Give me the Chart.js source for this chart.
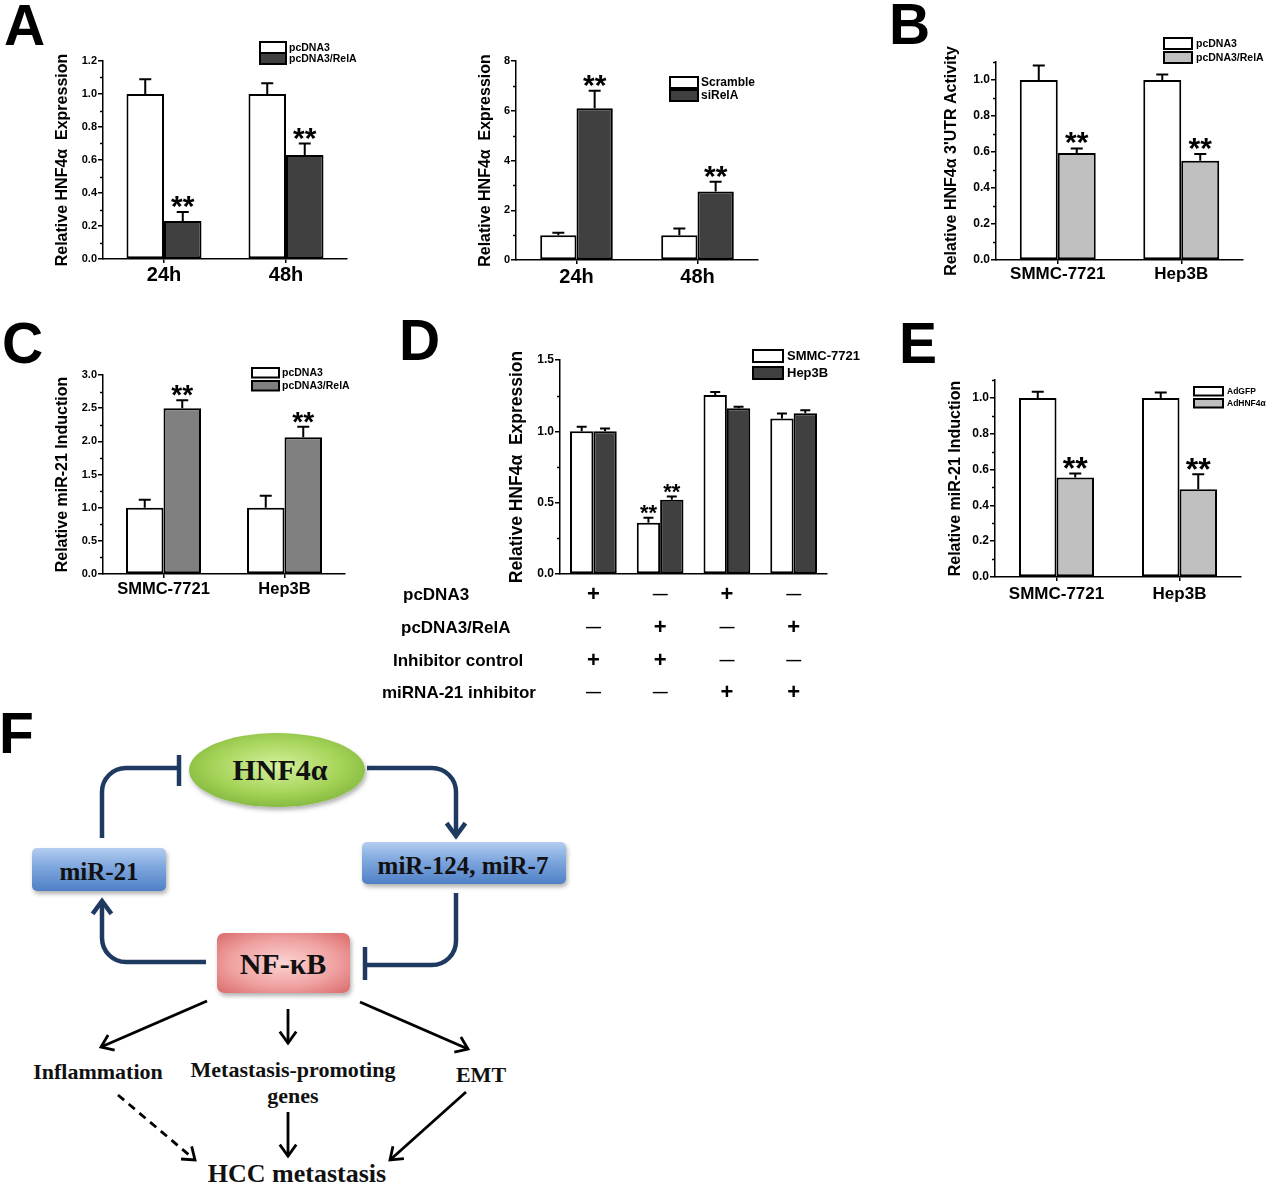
<!DOCTYPE html>
<html>
<head>
<meta charset="utf-8">
<script src="https://cdn.jsdelivr.net/npm/chart.js@4.4.0/dist/chart.umd.min.js"></script>
<style>
  body { margin: 0; background: #fff; }
  #fig { position: relative; width: 1270px; height: 1184px; overflow: hidden; background: #fff; }
  #fig canvas { position: absolute; }
  #fig svg { position: absolute; left: 0; top: 0; }
</style>
</head>
<body>
<div id="fig">
  <svg id="diagram" width="1270" height="1184" xmlns="http://www.w3.org/2000/svg">
    <defs>
      <radialGradient id="gGreen" cx="50%" cy="45%" r="60%">
        <stop offset="0%" stop-color="#d6f09c"/>
        <stop offset="60%" stop-color="#a6d45a"/>
        <stop offset="100%" stop-color="#7fb53a"/>
      </radialGradient>
      <linearGradient id="gBlue" x1="0" y1="0" x2="0" y2="1">
        <stop offset="0%" stop-color="#b3cdef"/>
        <stop offset="45%" stop-color="#7ea6de"/>
        <stop offset="100%" stop-color="#4f80c6"/>
      </linearGradient>
      <radialGradient id="gRed" cx="50%" cy="50%" r="65%">
        <stop offset="0%" stop-color="#fbd3d3"/>
        <stop offset="60%" stop-color="#f0a2a2"/>
        <stop offset="100%" stop-color="#de7474"/>
      </radialGradient>
      <filter id="shadow" x="-20%" y="-20%" width="140%" height="150%">
        <feDropShadow dx="1.5" dy="3" stdDeviation="2" flood-color="#000" flood-opacity="0.3"/>
      </filter>
    </defs>
    <g font-family="'Liberation Sans', Arial, sans-serif" font-weight="bold" font-size="57" fill="#000">
      <text x="4" y="45">A</text>
      <text x="889" y="44">B</text>
      <text x="2" y="363">C</text>
      <text x="399" y="360">D</text>
      <text x="899" y="363">E</text>
      <text x="-1" y="753">F</text>
    </g>
    <g id="arrows"></g>
    <ellipse cx="277" cy="770" rx="88" ry="37" fill="url(#gGreen)" filter="url(#shadow)"/>
    <rect x="32" y="848" width="134" height="43" rx="5" fill="url(#gBlue)" filter="url(#shadow)"/>
    <rect x="362" y="842" width="204" height="42" rx="5" fill="url(#gBlue)" filter="url(#shadow)"/>
    <rect x="217" y="933" width="133" height="60" rx="7" fill="url(#gRed)" filter="url(#shadow)"/>
    <g font-family="'Liberation Serif', 'DejaVu Serif', serif" font-weight="bold" fill="#111" text-anchor="middle">
      <text x="280" y="780" font-size="30">HNF4α</text>
      <text x="99" y="880" font-size="25">miR-21</text>
      <text x="463" y="874" font-size="25">miR-124, miR-7</text>
      <text x="283" y="974" font-size="30">NF-κB</text>
      <text x="98" y="1079" font-size="22">Inflammation</text>
      <text x="293" y="1077" font-size="22">Metastasis-promoting</text>
      <text x="293" y="1103" font-size="22">genes</text>
      <text x="481" y="1082" font-size="22">EMT</text>
      <text x="297" y="1182" font-size="26">HCC metastasis</text>
    </g>
  </svg>
  <canvas id="chartA1"></canvas>
  <canvas id="chartA2"></canvas>
  <canvas id="chartB"></canvas>
  <canvas id="chartC"></canvas>
  <canvas id="chartD"></canvas>
  <canvas id="chartE"></canvas>
</div>

<script>
// ---------- data ----------
// A (left): RelA overexpression
const timeLabels = ['24h', '48h'];
const aOverNames = ['pcDNA3', 'pcDNA3/RelA'];
const aOverCtrl = [1.0, 1.0];
const aOverCtrlErr = [0.09, 0.065];
const aOverRelA = [0.23, 0.63];
const aOverRelAErr = [0.055, 0.07];

// A (right): RelA knockdown
const aKdNames = ['Scramble', 'siRelA'];
const aKdScr = [1.0, 1.0];
const aKdScrErr = [0.1, 0.27];
const aKdSi = [6.1, 2.75];
const aKdSiErr = [0.7, 0.4];

// B: HNF4a 3'UTR activity
const cellLabels = ['SMMC-7721', 'Hep3B'];
const bNames = ['pcDNA3', 'pcDNA3/RelA'];
const bCtrl = [1.0, 1.0];
const bCtrlErr = [0.08, 0.03];
const bRelA = [0.595, 0.552];
const bRelAErr = [0.025, 0.037];

// C: miR-21 induction by RelA
const cNames = ['pcDNA3', 'pcDNA3/RelA'];
const cCtrl = [1.0, 1.0];
const cCtrlErr = [0.12, 0.18];
const cRelA = [2.5, 2.06];
const cRelAErr = [0.12, 0.16];

// D: HNF4a expression with miR-21 inhibitor
const dGroups = ['1', '2', '3', '4'];
const dNames = ['SMMC-7721', 'Hep3B'];
const dSmmc = [1.0, 0.36, 1.255, 1.09];
const dSmmcErr = [0.033, 0.035, 0.02, 0.035];
const dHep = [1.0, 0.52, 1.162, 1.127];
const dHepErr = [0.02, 0.023, 0.01, 0.02];
const dStars = [false, true, false, false];
const dRows = ['pcDNA3', 'pcDNA3/RelA', 'Inhibitor control', 'miRNA-21 inhibitor'];
const dSigns = [
  ['+', '—', '+', '—'],
  ['—', '+', '—', '+'],
  ['+', '+', '—', '—'],
  ['—', '—', '+', '+']
];

// E: miR-21 induction by HNF4a
const eNames = ['AdGFP', 'AdHNF4α'];
const eGfp = [1.0, 1.0];
const eGfpErr = [0.034, 0.03];
const eHnf = [0.555, 0.49];
const eHnfErr = [0.023, 0.084];

const noStars = [false, false];
const allStars = [true, true];

// ---------- chart helper ----------
const FONT = "'Liberation Sans', Arial, Helvetica, sans-serif";
Chart.defaults.font.family = FONT;
Chart.defaults.color = '#000';

function series(label, data, err, stars, color) {
  return { label, data, err, stars, backgroundColor: color };
}

function makeBarChart(id, cfg) {
  const [bx, by, bw, bh] = cfg.box;
  const [pl, pt, pr, pb] = cfg.plot;
  const canvas = document.getElementById(id);
  canvas.width = bw;
  canvas.height = bh;
  canvas.style.left = bx + 'px';
  canvas.style.top = by + 'px';

  const yWidth = pl - bx;
  const xHeight = by + bh - pb;
  const titleSize = cfg.titleSize || 16;
  const titlePad = cfg.titleX - bx - titleSize * 1.2 / 2;
  const ratio = Math.round(cfg.step / cfg.minor);

  const extras = {
    id: 'extras_' + id,
    afterDatasetsDraw(chart) {
      const ctx = chart.ctx;
      const y = chart.scales.y;
      const area = chart.chartArea;
      ctx.save();
      ctx.strokeStyle = '#000';
      ctx.fillStyle = '#000';

      // minor ticks on the y axis
      ctx.lineWidth = 1.5;
      const n = Math.round(cfg.yMax / cfg.minor);
      for (let k = 1; k <= n; k++) {
        if (k % ratio === 0) continue;
        const py = Math.round(y.getPixelForValue(k * cfg.minor)) + 0.5;
        ctx.beginPath();
        ctx.moveTo(area.left - 3, py);
        ctx.lineTo(area.left, py);
        ctx.stroke();
      }

      // error bars (upper only) and stars
      chart.data.datasets.forEach((ds, i) => {
        chart.getDatasetMeta(i).data.forEach((bar, j) => {
          const top = y.getPixelForValue(ds.data[j] + ds.err[j]);
          ctx.lineWidth = 2;
          ctx.beginPath();
          ctx.moveTo(bar.x, bar.y);
          ctx.lineTo(bar.x, top);
          ctx.moveTo(bar.x - cfg.cap / 2, top);
          ctx.lineTo(bar.x + cfg.cap / 2, top);
          ctx.stroke();
          if (ds.stars[j]) {
            ctx.font = `${cfg.starWeight || 'bold'} ${cfg.starSize}px ${FONT}`;
            ctx.textAlign = 'center';
            ctx.textBaseline = 'alphabetic';
            const m = ctx.measureText('**');
            ctx.fillText('**', bar.x, top - 4 - m.actualBoundingBoxDescent);
          }
        });
      });

      // legend boxes
      const lg = cfg.legend;
      ctx.font = `bold ${lg.size}px ${FONT}`;
      ctx.textAlign = 'left';
      ctx.textBaseline = 'middle';
      chart.data.datasets.forEach((ds, i) => {
        const lx = lg.x - bx;
        const ly = lg.y - by + i * lg.step;
        ctx.fillStyle = ds.backgroundColor;
        ctx.fillRect(lx, ly, lg.w, lg.h);
        ctx.lineWidth = 2;
        ctx.strokeRect(lx, ly, lg.w, lg.h);
        ctx.fillStyle = '#000';
        ctx.fillText(ds.label, lg.tx - bx, ly + lg.h / 2 + 0.5);
      });

      // treatment table under the x axis (panel D)
      if (cfg.table) {
        const t = cfg.table;
        const x = chart.scales.x;
        t.rows.forEach((row, r) => {
          const ry = t.rowY[r] - by;
          ctx.font = `bold ${t.size}px ${FONT}`;
          ctx.textAlign = 'left';
          ctx.fillText(row, t.labelX[r] - bx, ry);
          t.signs[r].forEach((s, c) => {
            ctx.textAlign = 'center';
            ctx.font = s === '+' ? `bold 22px ${FONT}` : `bold 15px ${FONT}`;
            ctx.fillText(s, x.getPixelForValue(c), ry);
          });
        });
      }
      ctx.restore();
    }
  };

  return new Chart(canvas, {
    type: 'bar',
    data: {
      labels: cfg.labels,
      datasets: cfg.series.map(s => ({
        ...s,
        borderColor: '#000',
        borderWidth: 2,
        borderSkipped: false,
        categoryPercentage: cfg.barPct,
        barPercentage: 1
      }))
    },
    options: {
      responsive: false,
      animation: false,
      devicePixelRatio: 1,
      layout: { padding: { left: 0, top: pt - by, right: bx + bw - pr, bottom: 0 } },
      plugins: { legend: { display: false }, tooltip: { enabled: false } },
      scales: {
        x: {
          grid: { display: !cfg.hideX, drawOnChartArea: false, offset: false, tickLength: 4, color: '#000', lineWidth: 1.5 },
          border: { color: '#000', width: 1.5 },
          ticks: { display: !cfg.hideX, color: '#000', font: { size: cfg.xSize, weight: 'bold' }, padding: cfg.xPad, maxRotation: 0 },
          afterFit(s) { s.height = xHeight; s.paddingLeft = 0; s.paddingRight = 0; }
        },
        y: {
          min: 0,
          max: cfg.yMax,
          grid: { drawOnChartArea: false, tickLength: 5, color: '#000', lineWidth: 1.5 },
          border: { color: '#000', width: 1.5 },
          ticks: {
            stepSize: cfg.step,
            includeBounds: false,
            color: '#000',
            padding: 1,
            font: { size: cfg.tickSize, weight: 'bold' },
            callback: v => v.toFixed(cfg.dec)
          },
          title: {
            display: true,
            text: cfg.yTitle,
            color: '#000',
            font: { size: titleSize, weight: 'bold' },
            padding: { top: titlePad, bottom: 0 }
          },
          afterFit(s) { s.width = yWidth; s.paddingTop = 0; s.paddingBottom = 0; }
        }
      }
    },
    plugins: [extras]
  });
}

// ---------- panels ----------
makeBarChart('chartA1', {
  box: [40, 30, 320, 270], plot: [103, 61, 347, 259],
  labels: timeLabels,
  series: [
    series(aOverNames[0], aOverCtrl, aOverCtrlErr, noStars, '#ffffff'),
    series(aOverNames[1], aOverRelA, aOverRelAErr, allStars, '#404040')
  ],
  yMax: 1.2, step: 0.2, minor: 0.1, dec: 1,
  yTitle: 'Relative HNF4α  Expression', titleX: 63,
  tickSize: 11, xSize: 20, xPad: 0, barPct: 0.615, cap: 12, starSize: 30,
  legend: { x: 260, y: 42, w: 26, h: 11, step: 11, tx: 289, size: 10.5 }
});

makeBarChart('chartA2', {
  box: [460, 30, 320, 270], plot: [516, 61, 758, 260],
  labels: timeLabels,
  series: [
    series(aKdNames[0], aKdScr, aKdScrErr, noStars, '#ffffff'),
    series(aKdNames[1], aKdSi, aKdSiErr, allStars, '#404040')
  ],
  yMax: 8, step: 2, minor: 1, dec: 0,
  yTitle: 'Relative HNF4α  Expression', titleX: 486,
  tickSize: 11, xSize: 20, xPad: 1, barPct: 0.6, cap: 12, starSize: 30,
  legend: { x: 670, y: 77, w: 28, h: 11, step: 13, tx: 701, size: 12 }
});

makeBarChart('chartB', {
  box: [920, 20, 350, 280], plot: [996, 62, 1243, 260],
  labels: cellLabels,
  series: [
    series(bNames[0], bCtrl, bCtrlErr, noStars, '#ffffff'),
    series(bNames[1], bRelA, bRelAErr, allStars, '#c0c0c0')
  ],
  yMax: 1.1, step: 0.2, minor: 0.1, dec: 1,
  yTitle: "Relative HNF4α 3'UTR Activity", titleX: 952,
  tickSize: 12, xSize: 17, xPad: 0, barPct: 0.615, cap: 12, starSize: 30,
  legend: { x: 1164, y: 38, w: 28, h: 11, step: 14, tx: 1196, size: 10.5 }
});

makeBarChart('chartC', {
  box: [40, 350, 330, 260], plot: [103, 375, 345, 574],
  labels: cellLabels,
  series: [
    series(cNames[0], cCtrl, cCtrlErr, noStars, '#ffffff'),
    series(cNames[1], cRelA, cRelAErr, allStars, '#808080')
  ],
  yMax: 3.0, step: 0.5, minor: 0.25, dec: 1,
  yTitle: 'Relative miR-21 Induction', titleX: 63,
  tickSize: 11, xSize: 16.5, xPad: 2, barPct: 0.62, cap: 12, starSize: 28,
  legend: { x: 252, y: 368, w: 27, h: 9.5, step: 13, tx: 282, size: 10.5 }
});

makeBarChart('chartD', {
  box: [370, 335, 500, 375], plot: [560, 360, 827, 574],
  labels: dGroups,
  series: [
    series(dNames[0], dSmmc, dSmmcErr, dStars, '#ffffff'),
    series(dNames[1], dHep, dHepErr, dStars, '#404040')
  ],
  yMax: 1.5, step: 0.5, minor: 0.25, dec: 1,
  yTitle: 'Relative HNF4α  Expression', titleX: 517, titleSize: 17.5,
  tickSize: 12, xSize: 12, xPad: 0, barPct: 0.7, cap: 10, starSize: 22,
  hideX: true,
  legend: { x: 753, y: 350, w: 30, h: 12, step: 17, tx: 787, size: 13 },
  table: {
    rows: dRows, signs: dSigns, size: 17,
    labelX: [403, 401, 393, 382],
    rowY: [595, 628, 661, 693]
  }
});

makeBarChart('chartE', {
  box: [920, 370, 350, 245], plot: [995, 380, 1241, 577],
  labels: cellLabels,
  series: [
    series(eNames[0], eGfp, eGfpErr, noStars, '#ffffff'),
    series(eNames[1], eHnf, eHnfErr, allStars, '#c0c0c0')
  ],
  yMax: 1.1, step: 0.2, minor: 0.1, dec: 1,
  yTitle: 'Relative miR-21 Induction', titleX: 956,
  tickSize: 12, xSize: 17, xPad: 3, barPct: 0.61, cap: 12, starSize: 32,
  legend: { x: 1194, y: 387, w: 29, h: 8.5, step: 12, tx: 1227, size: 8.5 }
});

// ---------- panel F arrows ----------
const SVGNS = 'http://www.w3.org/2000/svg';
const arrowLayer = document.getElementById('arrows');
const NAVY = '#1f3a60';

function addPath(d, color, width, dash) {
  const p = document.createElementNS(SVGNS, 'path');
  p.setAttribute('d', d);
  p.setAttribute('fill', 'none');
  p.setAttribute('stroke', color);
  p.setAttribute('stroke-width', width);
  p.setAttribute('stroke-linejoin', 'miter');
  if (dash) p.setAttribute('stroke-dasharray', dash);
  arrowLayer.appendChild(p);
}

// open chevron head at (x2,y2) pointing along (x1,y1)->(x2,y2)
function head(x1, y1, x2, y2, len, color, width) {
  const a = Math.atan2(y2 - y1, x2 - x1);
  const s = Math.PI / 5;
  const ax = x2 - len * Math.cos(a - s), ay = y2 - len * Math.sin(a - s);
  const bx = x2 - len * Math.cos(a + s), by = y2 - len * Math.sin(a + s);
  addPath(`M${ax} ${ay} L${x2} ${y2} L${bx} ${by}`, color, width);
}

function arrow(x1, y1, x2, y2, dash) {
  addPath(`M${x1} ${y1} L${x2} ${y2}`, '#000', 2.8, dash);
  head(x1, y1, x2, y2, 14, '#000', 2.8);
}

// feedback loop
addPath('M102 838 V792 A24 24 0 0 1 126 768 H178', NAVY, 4.5);
addPath('M179 755 V786', NAVY, 4.5);
addPath('M367 768 H432 A24 24 0 0 1 456 792 V835', NAVY, 4.5);
head(456, 800, 456, 836, 16, NAVY, 4.5);
addPath('M456 893 V941 A24 24 0 0 1 432 965 H366', NAVY, 4.5);
addPath('M365 947 V980', NAVY, 4.5);
addPath('M206 962 H126 A24 24 0 0 1 102 938 V902', NAVY, 4.5);
head(102, 940, 102, 901, 16, NAVY, 4.5);

// downstream effects
arrow(207, 1001, 101, 1047);
arrow(288, 1009, 288, 1043);
arrow(360, 1002, 468, 1049);
arrow(118, 1095, 195, 1160, '8 6');
arrow(288, 1112, 288, 1156);
arrow(466, 1092, 390, 1160);
</script>
</body>
</html>
